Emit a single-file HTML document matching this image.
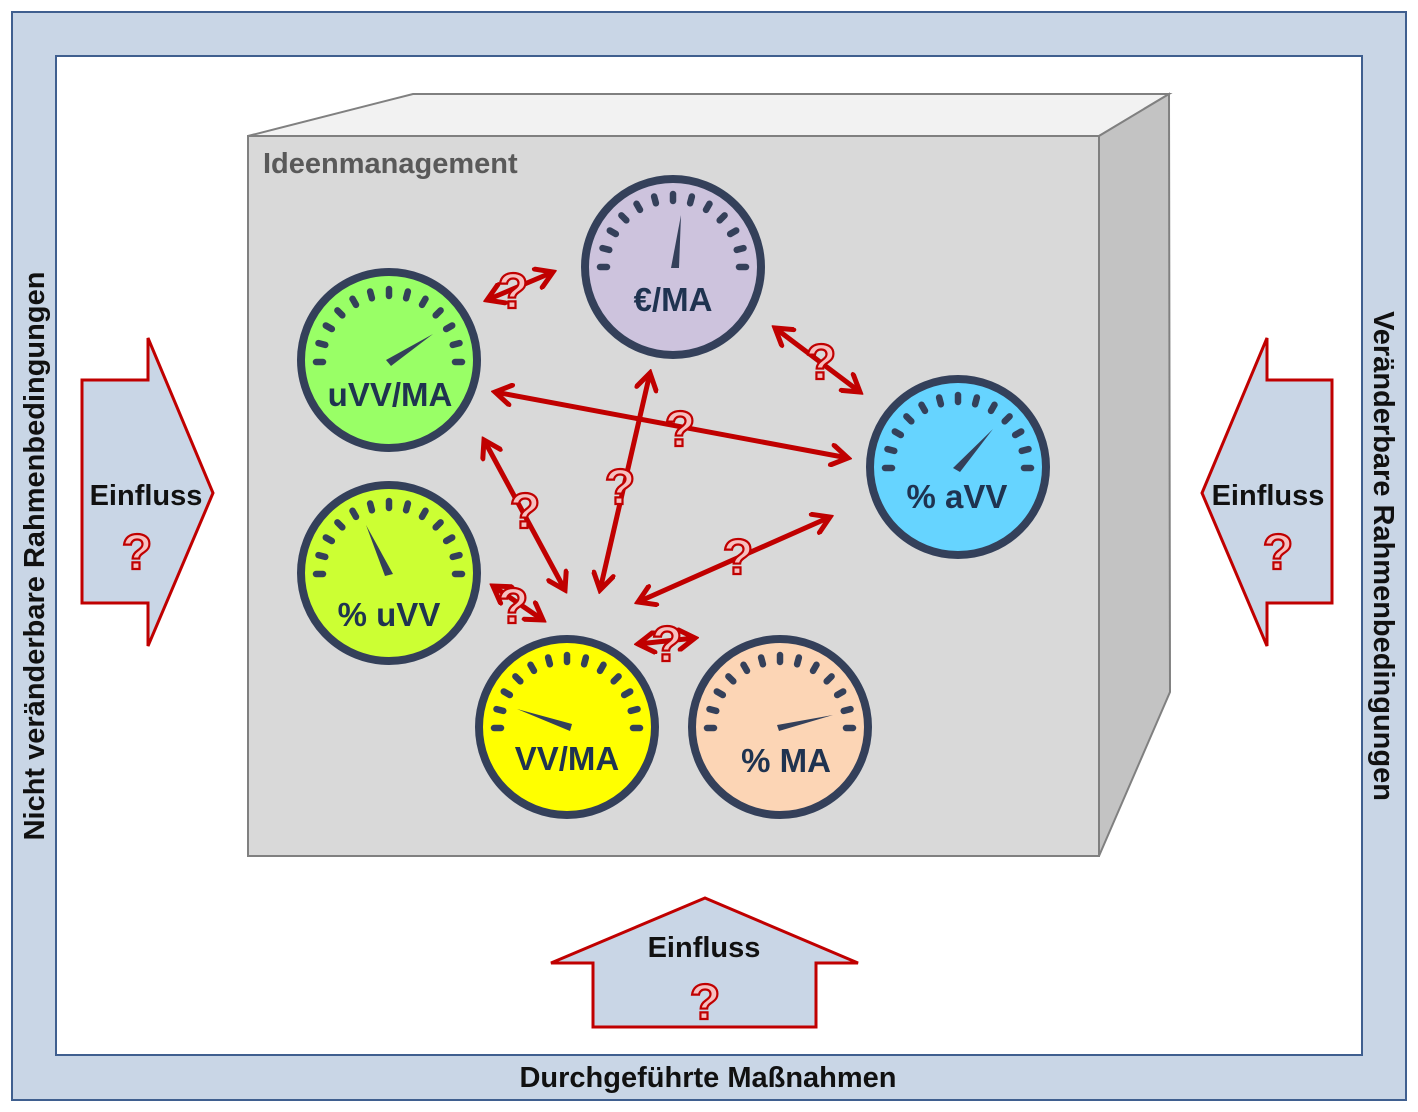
<!DOCTYPE html>
<html><head><meta charset="utf-8"><style>
html,body{margin:0;padding:0;background:#fff;}
svg{display:block;font-family:"Liberation Sans",Arial,sans-serif;}
</style></head><body>
<svg width="1418" height="1112" viewBox="0 0 1418 1112" xmlns="http://www.w3.org/2000/svg">
<defs>
<g id="ticks" stroke="#34405a" stroke-width="6.5" stroke-linecap="round">
<line x1="-73" y1="0" x2="-66" y2="0" transform="rotate(0)"/>
<line x1="-73" y1="0" x2="-66" y2="0" transform="rotate(15)"/>
<line x1="-73" y1="0" x2="-66" y2="0" transform="rotate(30)"/>
<line x1="-73" y1="0" x2="-66" y2="0" transform="rotate(45)"/>
<line x1="-73" y1="0" x2="-66" y2="0" transform="rotate(60)"/>
<line x1="-73" y1="0" x2="-66" y2="0" transform="rotate(75)"/>
<line x1="-73" y1="0" x2="-66" y2="0" transform="rotate(90)"/>
<line x1="-73" y1="0" x2="-66" y2="0" transform="rotate(105)"/>
<line x1="-73" y1="0" x2="-66" y2="0" transform="rotate(120)"/>
<line x1="-73" y1="0" x2="-66" y2="0" transform="rotate(135)"/>
<line x1="-73" y1="0" x2="-66" y2="0" transform="rotate(150)"/>
<line x1="-73" y1="0" x2="-66" y2="0" transform="rotate(165)"/>
<line x1="-73" y1="0" x2="-66" y2="0" transform="rotate(180)"/>
</g>
<marker id="ah" viewBox="0 0 24 24" refX="20" refY="12" markerWidth="24" markerHeight="24" markerUnits="userSpaceOnUse" orient="auto-start-reverse">
<polyline points="4,2 20,12 4,22" fill="none" stroke="#c00000" stroke-width="5" stroke-linecap="round" stroke-linejoin="miter"/>
</marker>
</defs>

<rect x="12" y="12" width="1394" height="1088" fill="#c9d6e6" stroke="#3f5f8f" stroke-width="2"/>
<rect x="56" y="56" width="1306" height="999" fill="#fff" stroke="#3f5f8f" stroke-width="2"/>

<text transform="translate(44,556) rotate(-90)" text-anchor="middle" font-size="29" font-weight="bold" fill="#111">Nicht veränderbare Rahmenbedingungen</text>
<text transform="translate(1374,556) rotate(90)" text-anchor="middle" font-size="29" font-weight="bold" fill="#111">Veränderbare Rahmenbedingungen</text>
<text x="708" y="1087" text-anchor="middle" font-size="29" font-weight="bold" fill="#111">Durchgeführte Maßnahmen</text>

<polygon points="248,136 413,94 1169,94 1099,136" fill="#f2f2f2" stroke="#808080" stroke-width="2"/>
<polygon points="1099,136 1169,94 1170,692 1099,856" fill="#c3c3c3" stroke="#808080" stroke-width="2"/>
<rect x="248" y="136" width="851" height="720" fill="#d9d9d9" stroke="#808080" stroke-width="2"/>
<text x="263" y="173" font-size="29" font-weight="bold" fill="#595959">Ideenmanagement</text>

<polygon points="82,380 148,380 148,338 213,493 148,646 148,603 82,603" fill="#c9d6e6" stroke="#c00000" stroke-width="3"/>
<text x="146" y="505" text-anchor="middle" font-size="29" font-weight="bold" fill="#111">Einfluss</text>
<polygon points="1332,380 1267,380 1267,338 1202,493 1267,646 1267,603 1332,603" fill="#c9d6e6" stroke="#c00000" stroke-width="3"/>
<text x="1268" y="505" text-anchor="middle" font-size="29" font-weight="bold" fill="#111">Einfluss</text>
<polygon points="593,1027 593,963 551,963 705,898 858,963 816,963 816,1027" fill="#c9d6e6" stroke="#c00000" stroke-width="3"/>
<text x="704" y="957" text-anchor="middle" font-size="29" font-weight="bold" fill="#111">Einfluss</text>

<g>
<circle cx="673" cy="267" r="88" fill="#cdc3dd" stroke="#34405a" stroke-width="8"/>
<use href="#ticks" transform="translate(673,267)"/>
<polygon points="671,268 679,268 681,215" fill="#34405a"/>
<text x="673" y="311" text-anchor="middle" font-size="33" font-weight="bold" fill="#1f3350">€/MA</text>
</g>
<g>
<circle cx="389" cy="360" r="88" fill="#99ff66" stroke="#34405a" stroke-width="8"/>
<use href="#ticks" transform="translate(389,362)"/>
<polygon points="386,360 391,366 433,334" fill="#34405a"/>
<text x="390" y="406" text-anchor="middle" font-size="33" font-weight="bold" fill="#1f3350">uVV/MA</text>
</g>
<g>
<circle cx="958" cy="467" r="88" fill="#66d4ff" stroke="#34405a" stroke-width="8"/>
<use href="#ticks" transform="translate(958,468)"/>
<polygon points="953,468 960,472 993,429" fill="#34405a"/>
<text x="957" y="508" text-anchor="middle" font-size="33" font-weight="bold" fill="#1f3350">% aVV</text>
</g>
<g>
<circle cx="389" cy="573" r="88" fill="#ccff33" stroke="#34405a" stroke-width="8"/>
<use href="#ticks" transform="translate(389,574)"/>
<polygon points="385,576 393,574 366,525" fill="#34405a"/>
<text x="389" y="626" text-anchor="middle" font-size="33" font-weight="bold" fill="#1f3350">% uVV</text>
</g>
<g>
<circle cx="567" cy="727" r="88" fill="#ffff00" stroke="#34405a" stroke-width="8"/>
<use href="#ticks" transform="translate(567,728)"/>
<polygon points="572,724 570,731 517,709" fill="#34405a"/>
<text x="567" y="770" text-anchor="middle" font-size="33" font-weight="bold" fill="#1f3350">VV/MA</text>
</g>
<g>
<circle cx="780" cy="727" r="88" fill="#fcd5b5" stroke="#34405a" stroke-width="8"/>
<use href="#ticks" transform="translate(780,728)"/>
<polygon points="777,725 779,731 833,715" fill="#34405a"/>
<text x="786" y="772" text-anchor="middle" font-size="33" font-weight="bold" fill="#1f3350">% MA</text>
</g>

<g stroke="#c00000" stroke-width="5" fill="none" marker-start="url(#ah)" marker-end="url(#ah)">
<line x1="487" y1="300" x2="553" y2="272"/>
<line x1="775" y1="328" x2="860" y2="392"/>
<line x1="495" y1="392" x2="848" y2="458"/>
<line x1="484" y1="440" x2="565" y2="590"/>
<line x1="650" y1="373" x2="600" y2="590"/>
<line x1="638" y1="602" x2="830" y2="517"/>
<line x1="493" y1="586" x2="543" y2="620"/>
<line x1="638" y1="644" x2="695" y2="638"/>
</g>

<g font-size="50" font-weight="bold" fill="#f6c0c0" stroke="#c00000" stroke-width="2.2" text-anchor="middle">
<text x="513" y="308">?</text>
<text x="821" y="379">?</text>
<text x="680" y="446">?</text>
<text x="525" y="528">?</text>
<text x="620" y="504">?</text>
<text x="738" y="574">?</text>
<text x="513" y="623">?</text>
<text x="667" y="661">?</text>
<text x="137" y="569">?</text>
<text x="1278" y="569">?</text>
<text x="705" y="1019">?</text>
</g>
</svg>
</body></html>
